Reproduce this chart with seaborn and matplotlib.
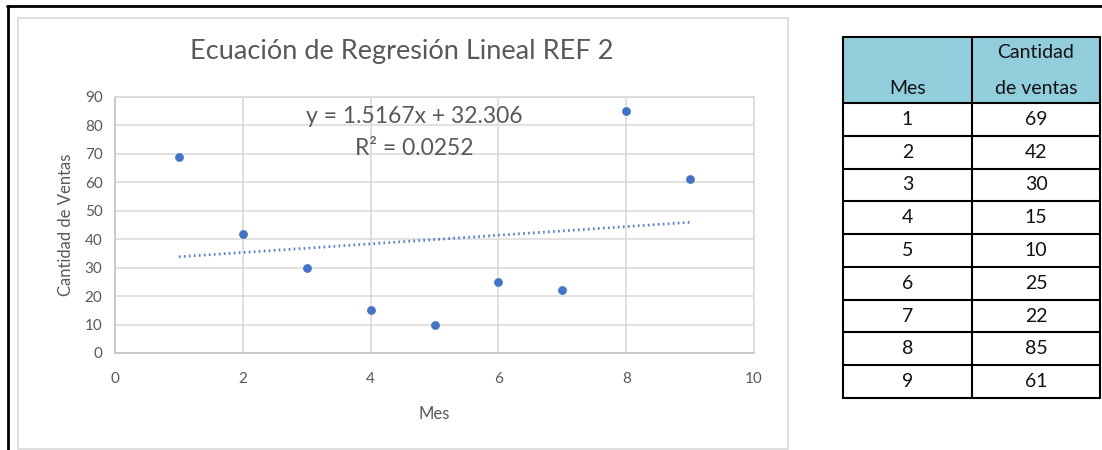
import numpy as np
import pandas as pd
import matplotlib
matplotlib.use("Agg")
import matplotlib.pyplot as plt
from matplotlib.patches import Rectangle
from matplotlib.lines import Line2D
import seaborn as sns

# Monthly sales data
meses = [1, 2, 3, 4, 5, 6, 7, 8, 9]
ventas = [69, 42, 30, 15, 10, 25, 22, 85, 61]
titulo = "Ecuación de Regresión Lineal REF 2"
encabezados = ["Mes", "Cantidad\nde ventas"]

sns.set_theme(style="white")
plt.rcParams["font.family"] = ["Lato", "DejaVu Sans"]

W, H = 1102, 450
fig = plt.figure(figsize=(W / 100, H / 100), dpi=100)
fig.patch.set_facecolor("white")

def px_axes(x0, y0, x1, y1):
    return fig.add_axes([x0 / W, 1 - y1 / H, (x1 - x0) / W, (y1 - y0) / H])

# Page frame lines and chart area border
frame = px_axes(0, 0, W, H)
frame.set_xlim(0, W)
frame.set_ylim(H, 0)
frame.axis("off")
frame.add_line(Line2D([7.5, 7.5], [6, H], color="black", lw=2))
frame.add_line(Line2D([7, W], [6, 6], color="black", lw=2))
frame.add_patch(Rectangle((18, 18), 770, 431, fill=False, ec="#D9D9D9", lw=1.2))

grey = "#595959"
blue = "#4472C4"

df = pd.DataFrame({"Mes": meses, "Ventas": ventas})

ax = px_axes(115, 97, 754, 353)
sns.scatterplot(data=df, x="Mes", y="Ventas", ax=ax, color=blue, s=40,
                edgecolor=blue, linewidth=0, zorder=3)

# Linear trendline
m, b = np.polyfit(df["Mes"], df["Ventas"], 1)
r2 = np.corrcoef(df["Mes"], df["Ventas"])[0, 1] ** 2
xs = np.array([min(meses), max(meses)])
ax.plot(xs, m * xs + b, color=blue, lw=2.0, alpha=0.9,
        linestyle=(0, (0.6, 1.2)), zorder=2)

ax.set_xlim(0, 10)
ax.set_ylim(0, 90)
ax.set_xticks(range(0, 11, 2))
ax.set_yticks(range(0, 91, 10))
ax.grid(True, color="#D9D9D9", lw=1.1)
for s in ax.spines.values():
    s.set_color("#D9D9D9")
    s.set_linewidth(1.1)
ax.spines["left"].set_color("#BFBFBF")
ax.spines["bottom"].set_color("#BFBFBF")
ax.tick_params(axis="both", colors=grey, labelsize=11, length=0)
ax.tick_params(axis="x", pad=14)
ax.tick_params(axis="y", pad=9)
ax.set_xlabel("Mes", color=grey, fontsize=12, labelpad=14)
ax.set_ylabel("Cantidad de Ventas", color=grey, fontsize=12, labelpad=8)

ax.text(4.69, 83.0, f"y = {m:.4f}x + {b:.3f}", ha="center", va="center",
        color=grey, fontsize=16.5)
ax.text(4.69, 72.0, f"R² = {r2:.4f}", ha="center", va="center",
        color=grey, fontsize=16.5)

fig.text(402 / W, 1 - 52 / H, titulo, ha="center", va="center",
         color=grey, fontsize=19.5)

# Data table
x0, x1, x2 = 843, 972, 1100
top, hdr_bot, bot = 37, 103, 398
row_h = (bot - hdr_bot) / len(meses)
txt = "#111111"
fs = 14
frame.add_patch(Rectangle((x0, top), x2 - x0, hdr_bot - top, fc="#92CDDC", ec="none"))
frame.text((x0 + x1) / 2, hdr_bot - 15, encabezados[0], ha="center", va="center",
           fontsize=fs, color=txt)
lines = encabezados[1].split("\n")
frame.text((x1 + x2) / 2, top + 16, lines[0], ha="center", va="center",
           fontsize=fs, color=txt)
frame.text((x1 + x2) / 2, hdr_bot - 15, lines[1], ha="center", va="center",
           fontsize=fs, color=txt)
for i, (mm, vv) in enumerate(zip(meses, ventas)):
    yc = hdr_bot + row_h * (i + 0.5)
    frame.text((x0 + x1) / 2, yc, str(mm), ha="center", va="center",
               fontsize=fs, color=txt)
    frame.text((x1 + x2) / 2, yc, str(vv), ha="center", va="center",
               fontsize=fs, color=txt)
for i in range(len(meses) + 1):
    y = hdr_bot + row_h * i
    frame.add_line(Line2D([x0, x2], [y, y], color="black", lw=1.5))
frame.add_line(Line2D([x0, x2], [top, top], color="black", lw=1.5))
for x in (x0, x1, x2):
    frame.add_line(Line2D([x, x], [top, bot], color="black", lw=1.5))

fig.savefig("out.png", dpi=100)
